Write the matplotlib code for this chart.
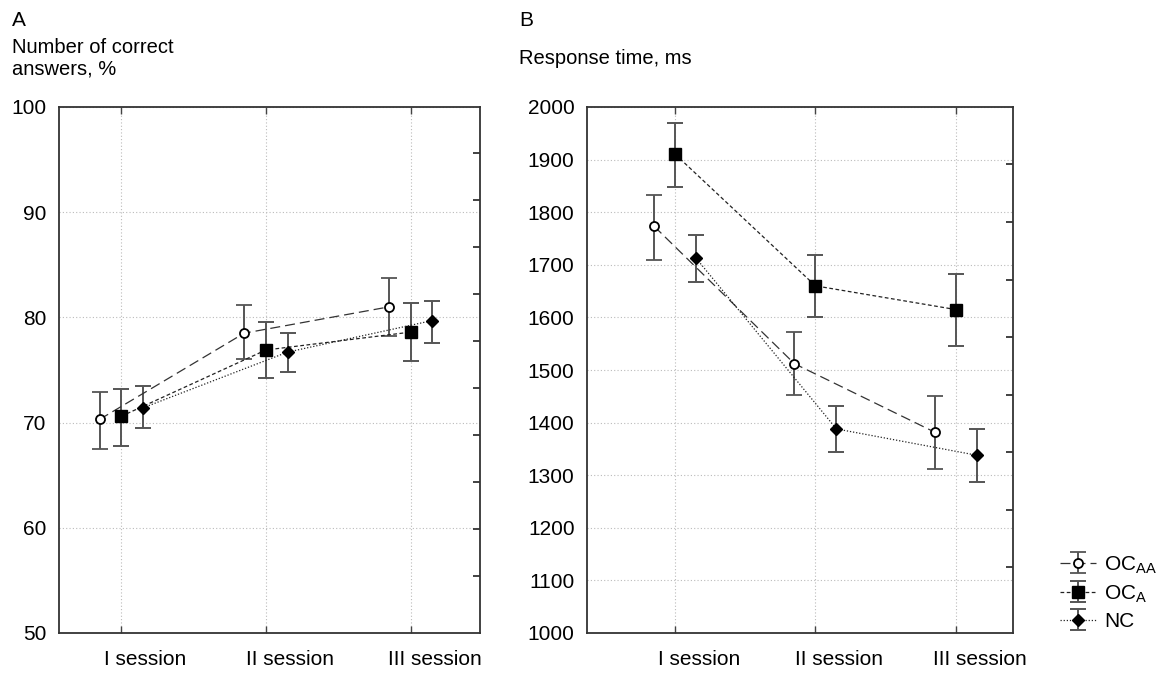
import numpy as np
import matplotlib
matplotlib.use("Agg")
import matplotlib.pyplot as plt
import matplotlib.transforms as mtransforms

plt.rcParams['font.family'] = ['Liberation Sans', 'DejaVu Sans']
plt.rcParams['mathtext.fontset'] = 'custom'
plt.rcParams['mathtext.rm'] = 'Liberation Sans'

sessions = ["I session", "II session", "III session"]
groups = ["OC$_\\mathrm{AA}$", "OC$_\\mathrm{A}$", "NC"]

# panel A: correct answers, %  (mean, lower, upper)
acc_mean = {"OCAA": [70.3, 78.5, 81.0], "OCA": [70.6, 76.9, 78.6], "NC": [71.4, 76.7, 79.7]}
acc_lo = {"OCAA": [67.5, 76.0, 78.2], "OCA": [67.8, 74.2, 75.9], "NC": [69.5, 74.8, 77.6]}
acc_hi = {"OCAA": [72.9, 81.2, 83.7], "OCA": [73.2, 79.6, 81.4], "NC": [73.5, 78.5, 81.6]}

# panel B: response time, ms
rt_mean = {"OCAA": [1773, 1512, 1382], "OCA": [1910, 1660, 1615], "NC": [1712, 1388, 1338]}
rt_lo = {"OCAA": [1710, 1453, 1312], "OCA": [1847, 1600, 1545], "NC": [1667, 1344, 1287]}
rt_hi = {"OCAA": [1833, 1572, 1450], "OCA": [1970, 1718, 1683], "NC": [1757, 1431, 1387]}

keys = ["OCAA", "OCA", "NC"]
offs = [-0.15, 0.0, 0.15]
styles = [
    dict(marker='o', mfc='white', mec='black', ms=6.5, mew=1.3, ls=(0, (8, 4)), color='#333333'),
    dict(marker='s', mfc='black', mec='black', ms=8, ls=(0, (3, 2)), color='#222222'),
    dict(marker='D', mfc='black', mec='black', ms=6.5, ls=(0, (1, 1.5)), color='#222222'),
]

fig = plt.figure(figsize=(11.69, 6.73), dpi=100)
axA = fig.add_axes([59/1169, 1-633/673, (480-59)/1169, (633-107)/673])
axB = fig.add_axes([587/1169, 1-633/673, (1013-587)/1169, (633-107)/673])

x = np.arange(len(sessions))


def draw(ax, mean, lo, hi):
    handles = []
    for k, o, st in zip(keys, offs, styles):
        m = np.array(mean[k], dtype=float)
        yerr = [m - np.array(lo[k]), np.array(hi[k]) - m]
        h = ax.errorbar(x + o, m, yerr=yerr, lw=0.9, ecolor='#555555', elinewidth=1.4,
                        capsize=6, capthick=1.4, zorder=3, **st)
        handles.append(h)
    ax.set_xticks(x)
    ax.set_xticklabels(sessions, fontsize=15)
    ax.tick_params(axis='x', direction='in', top=True, length=5, width=1, pad=12, color='#444444')
    ax.tick_params(axis='y', length=0, pad=9, labelsize=15)
    shift = mtransforms.ScaledTranslation(0.24, 0, fig.dpi_scale_trans)
    for lab in ax.get_xticklabels():
        lab.set_transform(lab.get_transform() + shift)
    ax.grid(True, ls=(0, (1, 2)), color='#bbbbbb', lw=0.8)
    for s in ax.spines.values():
        s.set_linewidth(1.3)
        s.set_color('#333333')
    return handles


draw(axA, acc_mean, acc_lo, acc_hi)
axA.set_xlim(-0.43, 2.48)
axA.set_ylim(50, 100)
axA.set_yticks([50, 60, 70, 80, 90, 100])

hB = draw(axB, rt_mean, rt_lo, rt_hi)
axB.set_xlim(-0.63, 2.41)
axB.set_ylim(1000, 2000)
axB.set_yticks(np.arange(1000, 2001, 100))

# decorative inner ticks on the right spines
for ax, ticks in [(axA, np.arange(55.45, 99, 4.46)), (axB, np.arange(1125, 1950, 109.4))]:
    tw = ax.twinx()
    tw.set_ylim(ax.get_ylim())
    tw.set_yticks(ticks)
    tw.set_yticklabels([])
    tw.tick_params(axis='y', direction='in', length=5, width=1.3, color='#333333')
    for s in tw.spines.values():
        s.set_visible(False)

fig.text(12/1169, 1-20/673, "A", fontsize=15, va='center')
fig.text(12/1169, 1-38/673, "Number of correct\nanswers, %", fontsize=14.5, va='top', linespacing=1.15)
fig.text(519/1169, 1-20/673, "B", fontsize=15, va='center')
fig.text(519/1169, 1-58/673, "Response time, ms", fontsize=14.5, va='center')

fig.legend(hB, groups, loc='upper left', bbox_to_anchor=(1056/1169, 1-550/673),
           frameon=False, fontsize=15, handlelength=1.7, labelspacing=0.35,
           handletextpad=0.4, borderaxespad=0, borderpad=0.2)

fig.savefig("out.png", dpi=100)
